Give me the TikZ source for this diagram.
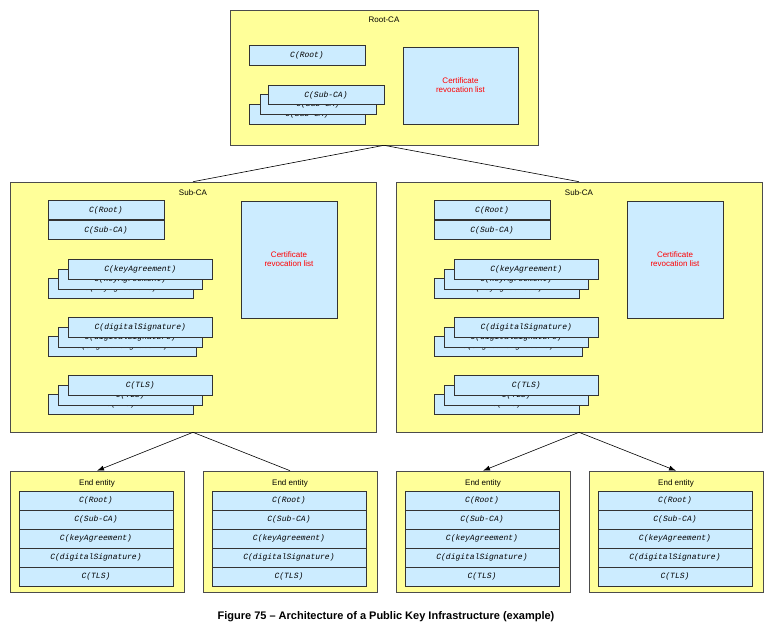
\documentclass[tikz,border=0pt]{standalone}
\usepackage{fontspec}
\setmainfont{Liberation Sans}
\newfontfamily\certfont{Liberation Mono}
\usetikzlibrary{positioning, arrows.meta}
\definecolor{caYellow}{HTML}{FFFF99}
\definecolor{certBlue}{HTML}{CCECFF}
\begin{document}
\begin{tikzpicture}[
        x=1pt, y=-1pt,
        font=\fontsize{8}{9}\selectfont,
        line/.style={-{Latex[length=7pt,width=5pt]}, line width=0.6pt},
        conn/.style={line width=0.6pt},
        ca/.style={draw=black!70, fill=caYellow, line width=0.6pt, inner sep=0pt},
        cert/.style={draw=black!80, fill=certBlue, line width=0.6pt, inner sep=0pt,
                     minimum height=19.5pt, font=\certfont\itshape\fontsize{8}{9}\selectfont},
        crl/.style={draw=black!80, fill=certBlue, line width=0.6pt, inner sep=0pt,
                    align=center, text=red}
    ]
    \useasboundingbox (0,0) rectangle (777,634);

    % Root-CA
    \node[ca, minimum width=308pt, minimum height=135pt] (root) at (384,77.5) {};
    \node at (384,20) (roottitle) {Root-CA};
    \node[cert, minimum width=116pt] (rootcert) at (307,55.5) {C(Root)};
    \node[cert, minimum width=116pt] (rootsub3) at (307,114.5) {C(Sub-CA)};
    \node[cert, minimum width=116pt] (rootsub2) at (318,104.5) {C(Sub-CA)};
    \node[cert, minimum width=116pt] (rootsub1) at (326,95) {C(Sub-CA)};
    \node[crl, minimum width=115pt, minimum height=77pt] (rootcrl) at (460.5,85.5) {Certificate\\revocation list};

    % Sub-CAs
    \foreach \s/\dx in {l/0, r/386} {
        \begin{scope}[xshift=\dx]
            \node[ca, minimum width=366pt, minimum height=250pt] (sub\s) at (193,307) {};
            \node at (193,193) (subtitle\s) {Sub-CA};
            \node[cert, minimum width=116pt] (subroot\s) at (106,210) {C(Root)};
            \node[cert, minimum width=116pt] (subsub\s) at (106,230) {C(Sub-CA)};
            \node[crl, minimum width=96pt, minimum height=117pt] (subcrl\s) at (289,259.5) {Certificate\\revocation list};
            \foreach \t/\y/\w in {keyAgreement/259/145, digitalSignature/317/148, TLS/375/145} {
                \node[cert, minimum width=\w pt, anchor=north west] (\t3\s) at (48,\y+19) {C(\t)};
                \node[cert, minimum width=144pt, anchor=north west] (\t2\s) at (58,\y+10) {C(\t)};
                \node[cert, minimum width=144pt, anchor=north west] (\t1\s) at (68,\y) {C(\t)};
            }
        \end{scope}
    }

    % End entities
    \foreach \e/\dx in {1/0, 2/193, 3/386, 4/579} {
        \begin{scope}[xshift=\dx]
            \node[ca, minimum width=174pt, minimum height=121pt] (ee\e) at (97,531.5) {};
            \node at (97,483) (eetitle\e) {End entity};
            \foreach \c [count=\i] in {Root, Sub-CA, keyAgreement, digitalSignature, TLS}
                \node[cert, minimum width=154pt, minimum height=19pt] (eecert\e\i) at (96,481.5+19*\i) {C(\c)};
        \end{scope}
    }

    \draw[conn] (root.south) -- (subl.north);
    \draw[conn] (root.south) -- (subr.north);
    \draw[line] (subl.south) -- (ee1.north);
    \draw[conn] (subl.south) -- (ee2.north);
    \draw[line] (subr.south) -- (ee3.north);
    \draw[line] (subr.south) -- (ee4.north);

    \node[font=\bfseries\fontsize{11}{13}\selectfont] (caption) at (386,617)
        {Figure 75 – Architecture of a Public Key Infrastructure (example)};
\end{tikzpicture}
\end{document}
